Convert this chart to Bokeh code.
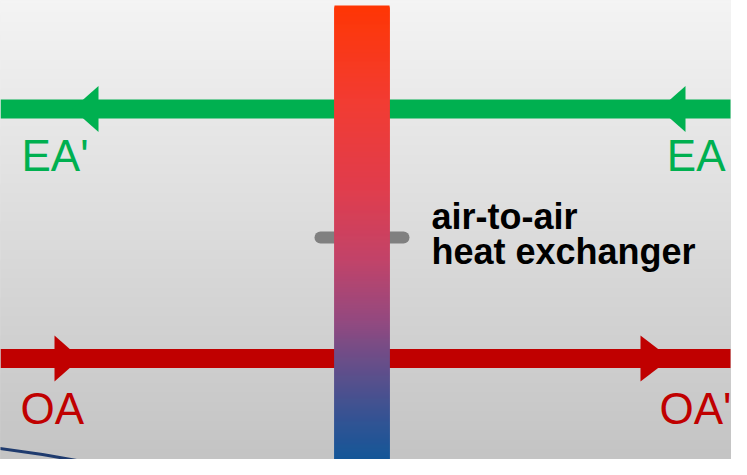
import numpy as np
from bokeh.plotting import figure
from bokeh.models import Range1d
from bokeh.core.properties import value
from bokeh.embed import file_html
from bokeh.resources import INLINE

# ---- diagram data (reference pixel coordinates, y measured from top) ----
flow_names = ["EA", "OA"]
flow_colors = ["#00b050", "#c00000"]
flow_y = [116.5, 366.0]
flow_x0 = [8, 8]
flow_x1 = [738, 738]
flow_thickness = [19, 19]

# arrow heads: tip x, base x, y centre, half-height
arrow_flow = ["EA", "EA", "OA", "OA"]
arrow_tip = [80, 667, 88, 678]
arrow_base = [106, 693, 62, 648]
arrow_half = [23, 23, 23, 23]

label_text = ["EA'", "EA", "OA", "OA'"]
label_x = [29, 733, 28, 667]
label_y = [179, 179, 432, 432]
label_align = ["left", "right", "left", "left"]
label_color = ["#00b050", "#00b050", "#c00000", "#c00000"]
label_size = 44

exch_x = [342, 397]
exch_y = [13, 475]
exch_stops = [0.0, 0.2, 0.4, 0.55, 0.68, 0.8, 0.9, 1.0]
exch_colors = [(255, 55, 5), (243, 60, 50), (224, 62, 78), (194, 68, 106),
               (148, 74, 128), (92, 80, 140), (50, 84, 148), (14, 88, 153)]

handle_x = [328, 411]
handle_y = 245

title_lines = ["air-to-air", "heat exchanger"]
title_x = 439
title_y = [237, 272]
title_size = 36

curve_x = [0, 50, 130]
curve_y = [455, 462, 476]

H = 475
BASE_FIX = 0.36  # shift (in em) so that glyphs sit on the wanted baseline


def Y(v):
    return H - np.asarray(v, dtype=float)


p = figure(width=731, height=459, output_backend="svg", toolbar_location=None,
           x_range=Range1d(8, 739), y_range=Range1d(8, 467), min_border=0)
p.axis.visible = False
p.grid.visible = False
p.outline_line_color = None
p.background_fill_color = "#e0e0e0"
p.border_fill_color = None

# background vertical gradient (overlapping bands drawn top to bottom)
rows = np.arange(0, H + 1, 1.0)
g = (245 - (245 - 195) * rows / H).astype(int)
p.quad(left=0, right=747, top=Y(rows), bottom=Y(rows + 4),
       fill_color=["#%02x%02x%02x" % (v, v, v) for v in g], fill_alpha=1.0,
       line_color=None)

# flow bars
for y, x0, x1, t, c in zip(flow_y, flow_x0, flow_x1, flow_thickness, flow_colors):
    p.quad(left=x0, right=x1, top=Y(y - t / 2), bottom=Y(y + t / 2),
           fill_color=c, fill_alpha=1.0, line_color=None)

# gray handle
p.line(x=handle_x, y=Y([handle_y, handle_y]), line_color="#808080",
       line_width=12, line_cap="round", line_alpha=1.0)

# exchanger gradient
ey = np.arange(exch_y[0], exch_y[1], 1.0)
f = (ey - exch_y[0]) / (exch_y[1] - exch_y[0])
cols = []
arr = np.array(exch_colors, dtype=float)
for fv in f:
    r = np.interp(fv, exch_stops, arr[:, 0])
    gg = np.interp(fv, exch_stops, arr[:, 1])
    b = np.interp(fv, exch_stops, arr[:, 2])
    cols.append("#%02x%02x%02x" % (int(r), int(gg), int(b)))
bot = np.minimum(ey + 4, exch_y[1])
p.quad(left=exch_x[0], right=exch_x[1], top=Y(ey), bottom=Y(bot),
       fill_color=cols, fill_alpha=1.0, line_color=None)

# arrow heads
xs, ys, acol = [], [], []
for fl, tip, base, hh in zip(arrow_flow, arrow_tip, arrow_base, arrow_half):
    i = flow_names.index(fl)
    yc = flow_y[i]
    xs.append([tip, base, base])
    ys.append(list(Y([yc, yc - hh, yc + hh])))
    acol.append(flow_colors[i])
p.patches(xs=xs, ys=ys, fill_color=acol, fill_alpha=1.0, line_color=None)

# curve
p.line(x=curve_x, y=Y(curve_y), line_color="#1f3b6e", line_width=3)

# labels
for t, x, y, a, c in zip(label_text, label_x, label_y, label_align, label_color):
    p.text(x=[x], y=[Y(y - BASE_FIX * label_size)], text=[t], text_align=a,
           text_baseline="alphabetic", text_color=c,
           text_font=value("Liberation Sans"), text_font_size=f"{label_size}px")

for t, y in zip(title_lines, title_y):
    p.text(x=[title_x], y=[Y(y - BASE_FIX * title_size)], text=[t],
           text_align="left", text_baseline="alphabetic", text_color="#000000",
           text_font=value("Liberation Sans"), text_font_style="bold",
           text_font_size=f"{title_size}px")

open("out.html", "w").write(file_html(p, INLINE))
